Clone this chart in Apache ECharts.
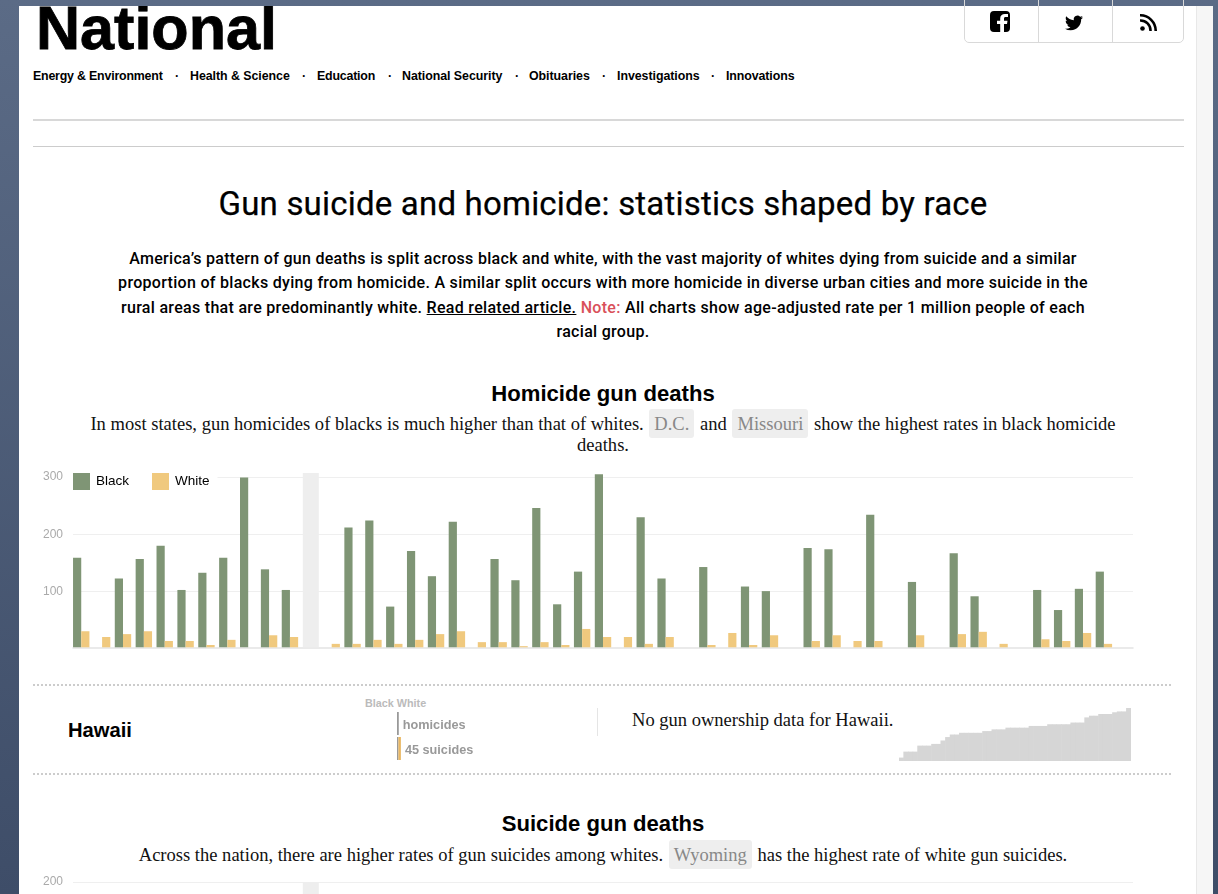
<!DOCTYPE html>
<html>
<head>
<meta charset="utf-8">
<title>Gun suicide and homicide</title>
<script src="https://cdn.jsdelivr.net/npm/echarts@6/dist/echarts.min.js"></script>
<style>
html, body { margin: 0; width: 1218px; height: 894px; overflow: hidden; }
body { background: linear-gradient(#5b6b86, #3e4d68); position: relative; }
#strip { position: absolute; left: 1196px; top: 6px; width: 17px; height: 888px; background: #f6f6f6; border-left: 1px solid #e8e8e8; box-sizing: border-box; }
#panel { position: absolute; left: 19px; top: 6px; width: 1177px; height: 888px; background: #fff; overflow: hidden; }
#chart { position: absolute; left: 0; top: 0; width: 1218px; height: 894px; }
.t { position: absolute; white-space: nowrap; color: #000; }
.c { left: 0; width: 1206px; text-align: center; }
.sans { font-family: "Liberation Sans", sans-serif; }
.serif { font-family: "Liberation Serif", serif; font-size: 18.55px; color: #111; }
.nav { font: bold 12.4px/16px "Liberation Sans", sans-serif; letter-spacing: -0.05px; top: 68px; }
.head { font: bold 22.1px/28px "Liberation Sans", sans-serif; }
.intro { font: 500 16px/24px Roboto, sans-serif; letter-spacing: 0.3px; color: #000; }
.pill { background: #eee; color: #888; border-radius: 3px; padding: 4px 5px; margin: 0 1px; }
.rule { position: absolute; background: #d8d8d8; }
.dots { position: absolute; left: 33px; width: 1138px; border-top: 2px dotted #ccc; }
#social { position: absolute; left: 964px; top: -2px; width: 220px; height: 45px; border: 1px solid #d9d9d9; border-radius: 0 0 5px 5px; box-sizing: border-box; z-index: 2; }
#social i { position: absolute; top: 0; width: 1px; height: 44px; background: #d9d9d9; }
.icon { position: absolute; z-index: 3; }
</style>
</head>
<body>
<div id="strip"></div>
<div id="panel"></div>

<div class="t sans" style="left:36px;top:-7.5px;font:bold 62px/70px 'Liberation Sans',sans-serif;-webkit-text-stroke:0.8px #000;transform:scaleX(0.985);transform-origin:left top;clip-path:inset(13.5px 0 0 0)">National</div>

<div class="t nav" style="left:33px;letter-spacing:-0.2px">Energy &amp; Environment</div>
<div class="t nav" style="left:175px">&middot;</div>
<div class="t nav" style="left:190px">Health &amp; Science</div>
<div class="t nav" style="left:302px">&middot;</div>
<div class="t nav" style="left:317px;letter-spacing:-0.2px">Education</div>
<div class="t nav" style="left:388px">&middot;</div>
<div class="t nav" style="left:402px">National Security</div>
<div class="t nav" style="left:515px">&middot;</div>
<div class="t nav" style="left:529px">Obituaries</div>
<div class="t nav" style="left:602px">&middot;</div>
<div class="t nav" style="left:617px">Investigations</div>
<div class="t nav" style="left:711px">&middot;</div>
<div class="t nav" style="left:726px;letter-spacing:-0.1px">Innovations</div>

<div id="social"><i style="left:73px"></i><i style="left:147px"></i></div>
<svg class="icon" style="left:990px;top:11px" width="20" height="21" viewBox="0 0 20 21"><path fill="#000" d="M4 0h12a4 4 0 0 1 4 4v13a4 4 0 0 1-4 4h-2v-8h3l.5-3.300H14V7.500c0-1 .4-1.600 1.700-1.600H18V3h-3c-3 0-4.800 1.800-4.800 4.400v2.300H7V13h3.200v8H4a4 4 0 0 1-4-4V4a4 4 0 0 1 4-4z"/></svg>
<svg class="icon" style="left:1065px;top:14px" width="18" height="18" viewBox="0 0 24 24"><path fill="#000" d="M23.953 4.57a10 10 0 01-2.825.775 4.958 4.958 0 002.163-2.723c-.951.555-2.005.959-3.127 1.184a4.92 4.92 0 00-8.384 4.482C7.69 8.095 4.067 6.13 1.64 3.162a4.822 4.822 0 00-.666 2.475c0 1.71.87 3.213 2.188 4.096a4.904 4.904 0 01-2.228-.616v.06a4.923 4.923 0 003.946 4.827 4.996 4.996 0 01-2.212.085 4.936 4.936 0 004.604 3.417 9.867 9.867 0 01-6.102 2.105c-.39 0-.779-.023-1.17-.067a13.995 13.995 0 007.557 2.209c9.053 0 13.998-7.496 13.998-13.985 0-.21 0-.42-.015-.63A9.935 9.935 0 0024 4.59z"/></svg>
<svg class="icon" style="left:1140px;top:14px" width="17" height="17" viewBox="0 0 17 17"><circle cx="2.500" cy="14.500" r="2.300" fill="#000"/><path fill="none" stroke="#000" stroke-width="2.600" d="M0 6.500a10 10 0 0 1 10.500 10.500M0 1.300a15.500 15.500 0 0 1 15.700 15.700"/></svg>

<div class="rule" style="left:33px;top:119px;width:1151px;height:2px"></div>
<div class="rule" style="left:33px;top:146px;width:1151px;height:1px;background:#ccc"></div>

<div class="t c" style="top:184px;font:400 33px/40px Roboto,sans-serif;letter-spacing:0.2px;-webkit-text-stroke:0.25px #000">Gun suicide and homicide: statistics shaped by race</div>

<div class="t c intro" style="top:247px">America&rsquo;s pattern of gun deaths is split across black and white, with the vast majority of whites dying from suicide and a similar</div>
<div class="t c intro" style="top:271px">proportion of blacks dying from homicide. A similar split occurs with more homicide in diverse urban cities and more suicide in the</div>
<div class="t c intro" style="top:296px">rural areas that are predominantly white. <span style="text-decoration:underline">Read related article.</span> <span style="color:#d9505a">Note:</span> All charts show age-adjusted rate per 1 million people of each</div>
<div class="t c intro" style="top:320px">racial group.</div>

<div class="t c head" style="top:380px">Homicide gun deaths</div>
<div class="t c serif" style="top:413px">In most states, gun homicides of blacks is much higher than that of whites. <span class="pill">D.C.</span> and <span class="pill">Missouri</span> show the highest rates in black homicide</div>
<div class="t c serif" style="top:434px">deaths.</div>

<div class="dots" style="top:684px"></div>
<div class="t head" style="left:68px;top:716px;font-size:20.2px">Hawaii</div>
<div class="t sans" style="left:365px;top:697px;font-size:10.800px;font-weight:bold;line-height:13px;color:#bbb">Black White</div>
<div class="rule" style="left:597px;top:708px;width:1px;height:28px;background:#e5e5e5"></div>
<div class="t serif" style="left:632px;top:709px">No gun ownership data for Hawaii.</div>
<div class="dots" style="top:773px"></div>

<div class="t c head" style="top:810px">Suicide gun deaths</div>
<div class="t c serif" style="top:844px">Across the nation, there are higher rates of gun suicides among whites. <span class="pill">Wyoming</span> has the highest rate of white gun suicides.</div>

<div id="chart"></div>

<script>
const states = ['Alabama', 'Alaska', 'Arizona', 'Arkansas', 'California', 'Colorado', 'Connecticut', 'Delaware', 'D.C.', 'Florida',
    'Georgia', 'Hawaii', 'Idaho', 'Illinois', 'Indiana', 'Iowa', 'Kansas', 'Kentucky', 'Louisiana', 'Maine',
    'Maryland', 'Massachusetts', 'Michigan', 'Minnesota', 'Mississippi', 'Missouri', 'Montana', 'Nebraska', 'Nevada', 'New Hampshire',
    'New Jersey', 'New Mexico', 'New York', 'North Carolina', 'North Dakota', 'Ohio', 'Oklahoma', 'Oregon', 'Pennsylvania', 'Rhode Island',
    'South Carolina', 'South Dakota', 'Tennessee', 'Texas', 'Utah', 'Vermont', 'Virginia', 'Washington', 'West Virginia', 'Wisconsin', 'Wyoming']

const homicideBlack = [159, null, 123, 157, 180, 103, 133, 159, 299, 139,
    103, null, null, 212, 224, 74, 171, 127, 222, null,
    157, 120, 246, 78, 135, 305, null, 230, 123, null,
    143, null, 109, 101, null, 176, 174, null, 234, null,
    117, null, 167, 92, null, null, 103, 68, 105, 135, null]
const homicideWhite = [31, 21, 26, 31, 14, 14, 7, 16, null, 24,
    21, null, 9, 9, 16, 9, 16, 26, 31, 12,
    12, 5, 12, 7, 35, 21, 21, 9, 21, null,
    7, 28, 7, 24, null, 14, 24, 14, 14, null,
    24, null, 26, 30, 9, null, 17, 14, 28, 9, null]

const homicideTicks = [100, 200, 300]
const suicideTicks = [200]

// grey column that marks the selected state
const selectedState = 'Hawaii'
const homicideSelected = states.map(s => s === selectedState ? 307 : null)
const suicideSelected = states.map(s => s === selectedState ? 200 : null)

const hawaiiRows = ['homicides', 'suicides']
const hawaiiLabels = ['homicides', '45 suicides']
const hawaiiBlack = [32, 25]
const hawaiiWhite = [0, 45]

// small sorted ownership profile under the Hawaii note
const ownership = [4, 11, 11, 11, 18, 18, 18, 20, 20, 24,
    28, 31, 31, 33, 33, 33, 33, 33, 35, 35,
    37, 37, 37, 39, 39, 39, 39, 39, 41, 41,
    41, 41, 43, 43, 43, 43, 43, 45, 45, 45,
    51, 53, 53, 55, 55, 55, 57, 58, 58, 62]

const green = '#7f9575'
const yellow = '#f0c97e'
const tickFont = { color: '#aaa', fontSize: 12, fontFamily: 'Liberation Sans' }

const barGrid = (top, height) => ({ left: 70.8, width: 1064.4, top: top, height: height })
const tickGrid = (top, height) => ({ left: 73, width: 1060, top: top, height: height })
const hiddenCat = (gridIndex, data) => ({ type: 'category', gridIndex: gridIndex, data: data, show: false })
const hiddenVal = (gridIndex, min, max) => ({ type: 'value', gridIndex: gridIndex, min: min, max: max, show: false })
const tickAxis = (gridIndex, min, max, ticks) => ({
    type: 'value', gridIndex: gridIndex, min: min, max: max,
    axisLine: { show: false },
    axisTick: { show: false, customValues: ticks },
    axisLabel: { customValues: ticks, margin: 10, padding: [4, 0, 0, 0], ...tickFont },
    splitLine: { lineStyle: { color: '#efefef', width: 1 } }
})

const option = {
    animation: false,
    legend: {
        left: 70, top: 469,
        data: ['Black', 'White'],
        icon: 'rect',
        backgroundColor: '#fff',
        padding: [4, 8, 4, 3],
        itemWidth: 17, itemHeight: 17, itemGap: 23,
        textStyle: { color: '#000', fontSize: 13.5, fontFamily: 'Liberation Sans', padding: [0, 0, 0, 1] }
    },
    grid: [
        barGrid(473, 174.3),
        tickGrid(473, 174.3),
        barGrid(882, 120),
        tickGrid(882, 120),
        { left: 397, width: 200, top: 711, height: 50 },
        { left: 899, width: 232, top: 708, height: 53 }
    ],
    xAxis: [
        hiddenCat(0, states),
        hiddenCat(0, states),
        {
            type: 'category', gridIndex: 1, data: states,
            axisLine: { lineStyle: { color: '#e3e3e3', width: 1.5 } },
            axisTick: { show: false }, axisLabel: { show: false }
        },
        hiddenCat(2, states),
        { type: 'category', gridIndex: 3, data: states, show: false },
        { type: 'value', gridIndex: 4, min: 0, max: 3600, show: false },
        hiddenCat(5, ownership.map((v, i) => i))
    ],
    yAxis: [
        hiddenVal(0, 3, 307),
        tickAxis(1, 3, 307, homicideTicks),
        hiddenVal(2, 0, 200),
        tickAxis(3, 0, 200, suicideTicks),
        { type: 'category', gridIndex: 4, data: hawaiiRows, inverse: true, show: false },
        hiddenVal(5, 0, 62)
    ],
    series: [
        { name: 'Black', type: 'bar', xAxisIndex: 0, yAxisIndex: 0, data: homicideBlack, barWidth: 8.2, barGap: 0, itemStyle: { color: green } },
        { name: 'White', type: 'bar', xAxisIndex: 0, yAxisIndex: 0, data: homicideWhite, barWidth: 8.2, barGap: 0, itemStyle: { color: yellow } },
        { name: 'selected', type: 'bar', xAxisIndex: 1, yAxisIndex: 0, data: homicideSelected, barWidth: 16, itemStyle: { color: '#eee' } },
        { name: 'selected', type: 'bar', xAxisIndex: 3, yAxisIndex: 2, data: suicideSelected, barWidth: 16, itemStyle: { color: '#eee' } },
        { name: 'hawaiiBlack', type: 'bar', stack: 'hawaii', xAxisIndex: 5, yAxisIndex: 4, data: hawaiiBlack, barWidth: 23, itemStyle: { color: '#999' } },
        {
            name: 'hawaiiWhite', type: 'bar', stack: 'hawaii', xAxisIndex: 5, yAxisIndex: 4, data: hawaiiWhite, barWidth: 23,
            itemStyle: { color: '#e9b763' },
            label: {
                show: true, position: 'right', distance: 5, offset: [-1, 2],
                formatter: p => hawaiiLabels[p.dataIndex],
                color: '#999', fontSize: 12.7, fontWeight: 'bold', fontFamily: 'Liberation Sans'
            }
        },
        { name: 'ownership', type: 'bar', xAxisIndex: 6, yAxisIndex: 5, data: ownership, barWidth: 5.2, itemStyle: { color: '#d6d6d6' } }
    ]
}

const chart = echarts.init(document.getElementById('chart'))
chart.setOption(option)
</script>
</body>
</html>
